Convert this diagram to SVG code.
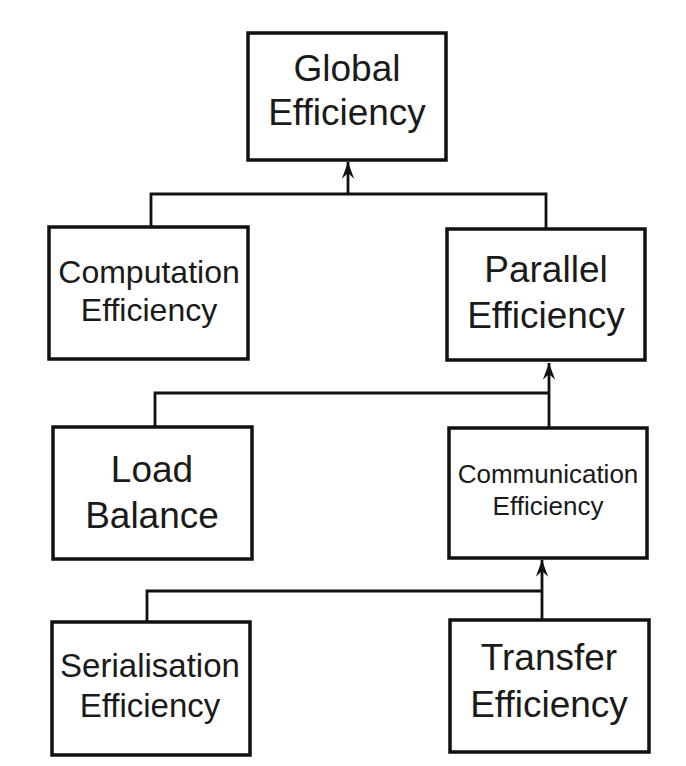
<svg xmlns="http://www.w3.org/2000/svg" width="686" height="766" viewBox="0 0 686 766">
<style>
.box{fill:#fff;stroke:#111;stroke-width:3.5}
.t{font-family:"Liberation Sans",Arial,sans-serif;fill:#1a1a1a;text-anchor:middle}
.c{fill:none;stroke:#111;stroke-width:2.8}
</style>
<defs>
<marker id="ah" markerUnits="userSpaceOnUse" markerWidth="20" markerHeight="20" viewBox="-16 -8 18 16" refX="0" refY="0" orient="auto">
<path d="M0,0 L-15,-5.5 L-10,0 L-15,5.5 Z" fill="#111"/>
</marker>
</defs>
<rect width="686" height="766" fill="#fff"/>
<g id="connectors">
<path class="c" d="M151,226 V194 H546 V229"/>
<path class="c" d="M348,194 V162" marker-end="url(#ah)"/>
<path class="c" d="M155,427 V393 H549"/>
<path class="c" d="M549,428 V363" marker-end="url(#ah)"/>
<path class="c" d="M147,622 V591 H542"/>
<path class="c" d="M542,620 V560" marker-end="url(#ah)"/>
</g>
<g id="global">
<rect class="box" x="248" y="33" width="198" height="127"/>
<text class="t" x="347" y="81" font-size="37">Global</text>
<text class="t" x="347" y="125" font-size="37">Efficiency</text>
</g>
<g id="computation">
<rect class="box" x="49" y="227" width="199" height="132"/>
<text class="t" x="149" y="283" font-size="32">Computation</text>
<text class="t" x="149" y="321" font-size="32">Efficiency</text>
</g>
<g id="parallel">
<rect class="box" x="447" y="229" width="198" height="131"/>
<text class="t" x="546" y="282" font-size="37">Parallel</text>
<text class="t" x="546" y="328" font-size="37">Efficiency</text>
</g>
<g id="load">
<rect class="box" x="53" y="427" width="199" height="132"/>
<text class="t" x="152" y="482" font-size="37">Load</text>
<text class="t" x="152" y="528" font-size="37">Balance</text>
</g>
<g id="communication">
<rect class="box" x="449" y="428" width="198" height="130"/>
<text class="t" x="548" y="483" font-size="26">Communication</text>
<text class="t" x="548" y="515" font-size="26">Efficiency</text>
</g>
<g id="serialisation">
<rect class="box" x="52" y="622" width="198" height="133"/>
<text class="t" x="150" y="677" font-size="33">Serialisation</text>
<text class="t" x="150" y="717" font-size="33">Efficiency</text>
</g>
<g id="transfer">
<rect class="box" x="450" y="620" width="199" height="132"/>
<text class="t" x="549" y="670" font-size="37">Transfer</text>
<text class="t" x="549" y="717" font-size="37">Efficiency</text>
</g>
</svg>
